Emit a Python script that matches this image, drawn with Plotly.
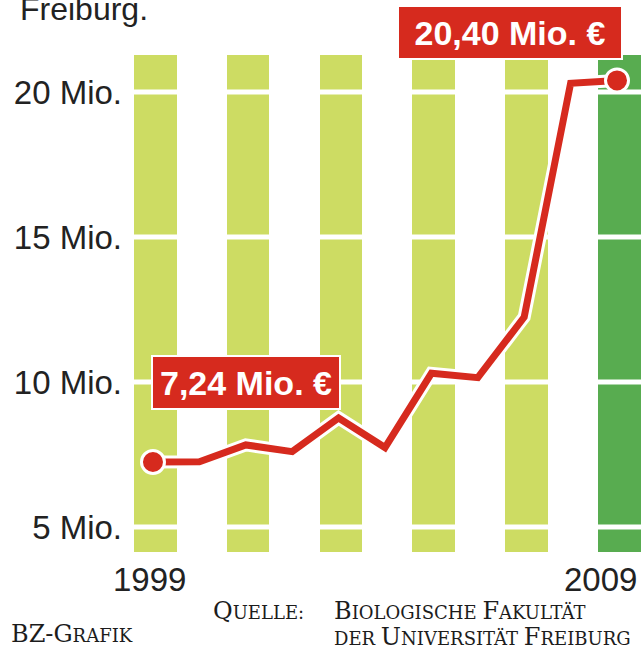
import plotly.graph_objects as go

# ---- data ----
years = [1999, 2000, 2001, 2002, 2003, 2004, 2005, 2006, 2007, 2008, 2009]
values = [7.24, 7.25, 7.83, 7.60, 8.76, 7.74, 10.30, 10.15, 12.24, 20.30, 20.40]

bar_years = [1999, 2001, 2003, 2005, 2007, 2009]
bar_bottom = 4.14
bar_top = 21.28

y_ticks = [5, 10, 15, 20]
y_tick_labels = ["5 Mio.", "10 Mio.", "15 Mio.", "20 Mio."]

first_label = "7,24 Mio. €"
last_label = "20,40 Mio. €"
title_text = "Freiburg."

# ---- styles ----
LIGHT = "#CDDC63"
DARK = "#58AC50"
RED = "#D62A1E"
TXT = "#222222"
FOOT = "#1c1c1c"
SANS = "Liberation Sans, Arial, sans-serif"
SERIF = "DejaVu Serif, serif"

x_range = [1998.397, 2009.517]
y_range = [3.862, 23.172]

fig = go.Figure()

bar_colors = [DARK if y == bar_years[-1] else LIGHT for y in bar_years]
fig.add_trace(go.Bar(
    x=bar_years, y=[bar_top - bar_bottom] * len(bar_years), base=bar_bottom,
    width=0.92, offset=-0.41, marker=dict(color=bar_colors, line=dict(width=0)),
    hoverinfo="skip", showlegend=False))

# white grid lines drawn over the bars
gx, gy = [], []
for t in y_ticks:
    gx += [x_range[0], x_range[1], None]
    gy += [t, t, None]
fig.add_trace(go.Scatter(x=gx, y=gy, mode="lines",
                         line=dict(color="white", width=5),
                         hoverinfo="skip", showlegend=False))

# line with white halo
fig.add_trace(go.Scatter(x=years, y=values, mode="lines",
                         line=dict(color="white", width=13),
                         hoverinfo="skip", showlegend=False))
fig.add_trace(go.Scatter(x=years, y=values, mode="lines",
                         line=dict(color=RED, width=7),
                         hoverinfo="skip", showlegend=False))
fig.add_trace(go.Scatter(x=[years[0], years[-1]], y=[values[0], values[-1]],
                         mode="markers",
                         marker=dict(color=RED, size=23, line=dict(color="white", width=3)),
                         hoverinfo="skip", showlegend=False))

annotations = []
# value labels
annotations.append(dict(x=2001.0, y=9.98, xref="x", yref="y", text=first_label,
                        showarrow=False, font=dict(family=SANS, size=34, color="white", weight=700),
                        bgcolor=RED, bordercolor="white", borderwidth=2, borderpad=0,
                        width=186, height=51, xanchor="center", yanchor="middle"))
annotations.append(dict(x=2006.7, y=22.04, xref="x", yref="y", text=last_label,
                        showarrow=False, font=dict(family=SANS, size=34, color="white", weight=700),
                        bgcolor=RED, bordercolor="white", borderwidth=2, borderpad=0,
                        width=222, height=51, xanchor="center", yanchor="middle"))
# year labels
annotations.append(dict(x=years[0], y=-0.0357, xref="x", yref="paper", text=str(years[0]),
                        showarrow=False, font=dict(family=SANS, size=33, color=TXT),
                        xanchor="center", yanchor="middle", xshift=-3))
annotations.append(dict(x=years[-1], y=-0.0357, xref="x", yref="paper", text=str(years[-1]),
                        showarrow=False, font=dict(family=SANS, size=33, color=TXT),
                        xanchor="right", yanchor="middle", xshift=22))
# title (partially cut off at the top)
annotations.append(dict(x=-0.2, y=1, xref="paper", yref="paper", text=title_text,
                        showarrow=False, font=dict(family=SANS, size=32, color=TXT),
                        xanchor="left", yanchor="bottom", yshift=-29, xshift=-4))


def sc(big, small, bs=24, ss=18):
    out = ""
    if big:
        out += f"<span style='font-size:{bs}px'>{big}</span>"
    out += f"<span style='font-size:{ss}px'>{small}</span>"
    return out


bz = sc("BZ-G", "RAFIK")
quelle = sc("Q", "UELLE:")
src1 = sc("B", "IOLOGISCHE ") + sc("F", "AKULTÄT")
src2 = sc("", "DER ") + sc("U", "NIVERSITÄT ") + sc("F", "REIBURG")


def px_x(p):
    return (p - 125) / 516.0


def px_y(p):
    return (560 - p) / 560.0


foot_font = dict(family=SERIF, size=24, color=FOOT)
annotations.append(dict(x=px_x(9), y=px_y(650), xref="paper", yref="paper", text=bz,
                        showarrow=False, font=foot_font, xanchor="left", yanchor="bottom"))
annotations.append(dict(x=px_x(211), y=px_y(627), xref="paper", yref="paper", text=quelle,
                        showarrow=False, font=foot_font, xanchor="left", yanchor="bottom"))
annotations.append(dict(x=px_x(332), y=px_y(627), xref="paper", yref="paper", text=src1,
                        showarrow=False, font=foot_font, xanchor="left", yanchor="bottom"))
annotations.append(dict(x=px_x(332), y=px_y(653), xref="paper", yref="paper", text=src2,
                        showarrow=False, font=foot_font, xanchor="left", yanchor="bottom"))

fig.update_layout(
    width=641, height=655,
    margin=dict(l=125, r=0, t=0, b=95, pad=0),
    paper_bgcolor="white", plot_bgcolor="white",
    showlegend=False, bargap=0,
    xaxis=dict(range=x_range, showgrid=False, zeroline=False, showline=False,
               showticklabels=False, ticks="", fixedrange=True),
    yaxis=dict(range=y_range, showgrid=False, zeroline=False, showline=False,
               tickmode="array", tickvals=y_ticks, ticktext=y_tick_labels,
               tickfont=dict(family=SANS, size=33, color=TXT), ticks="",
               ticklabelstandoff=2, fixedrange=True),
    annotations=annotations,
)

fig.write_html("out.html", config={"displayModeBar": False},
               post_script="document.body.style.margin='0';document.body.style.overflow='hidden';")
